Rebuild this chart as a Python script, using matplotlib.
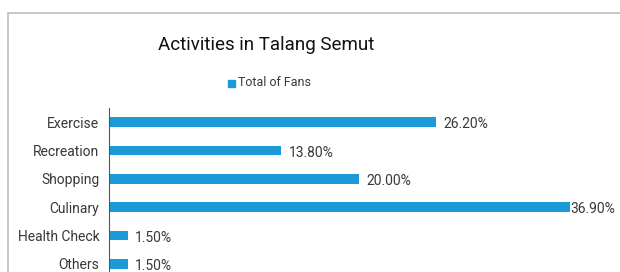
import matplotlib
matplotlib.use('Agg')
import matplotlib.pyplot as plt
from matplotlib.patches import Rectangle

plt.rcParams['font.family'] = ['Roboto', 'DejaVu Sans']

categories = ['Exercise', 'Recreation', 'Shopping', 'Culinary', 'Health Check', 'Others']
values = [26.2, 13.8, 20.0, 36.9, 1.5, 1.5]
labels = ['26.20%', '13.80%', '20.00%', '36.90%', '1.50%', '1.50%']

bar_color = '#1a9ad6'
text_color = '#383838'

fig = plt.figure(figsize=(6.2, 2.72), dpi=100)
W, H = 620, 272

# outer chart frame
fig.patches.append(Rectangle((8 / W, -0.1), 1.2, (H - 13) / H + 0.1,
                             transform=fig.transFigure, fill=False,
                             edgecolor='#bdbdbd', linewidth=1.2))

ax = fig.add_axes([109 / W, (H - 278) / H, (600 - 109) / W, 170 / H])
y = list(range(len(categories)))
ax.barh(y, values, height=0.35, color=bar_color)
ax.set_ylim(5.5, -0.5)
ax.set_xlim(0, (600 - 109) / 12.49)
ax.set_yticks(y)
ax.set_yticklabels(categories, fontsize=10, color=text_color)
ax.tick_params(axis='y', length=0, pad=7)
ax.set_xticks([])
for s in ['top', 'right', 'bottom']:
    ax.spines[s].set_visible(False)
ax.spines['left'].set_color('#555555')
ax.spines['left'].set_linewidth(0.8)
for yi, v, lab in zip(y, values, labels):
    off = 0.05 if v == max(values) else 0.6
    ax.text(v + off, yi + 0.08, lab, va='center', ha='left', fontsize=10, color=text_color)

fig.text(0.43, (H - 45) / H, 'Activities in Talang Semut', ha='center', va='center',
         fontsize=13.5, color='#111111')
fig.patches.append(Rectangle((228 / W, (H - 87) / H), 7 / W, 7 / H,
                             transform=fig.transFigure, color=bar_color))
fig.text(238 / W, (H - 83) / H, 'Total of Fans', ha='left', va='center',
         fontsize=9, color=text_color)

fig.savefig('out.png', dpi=100)
